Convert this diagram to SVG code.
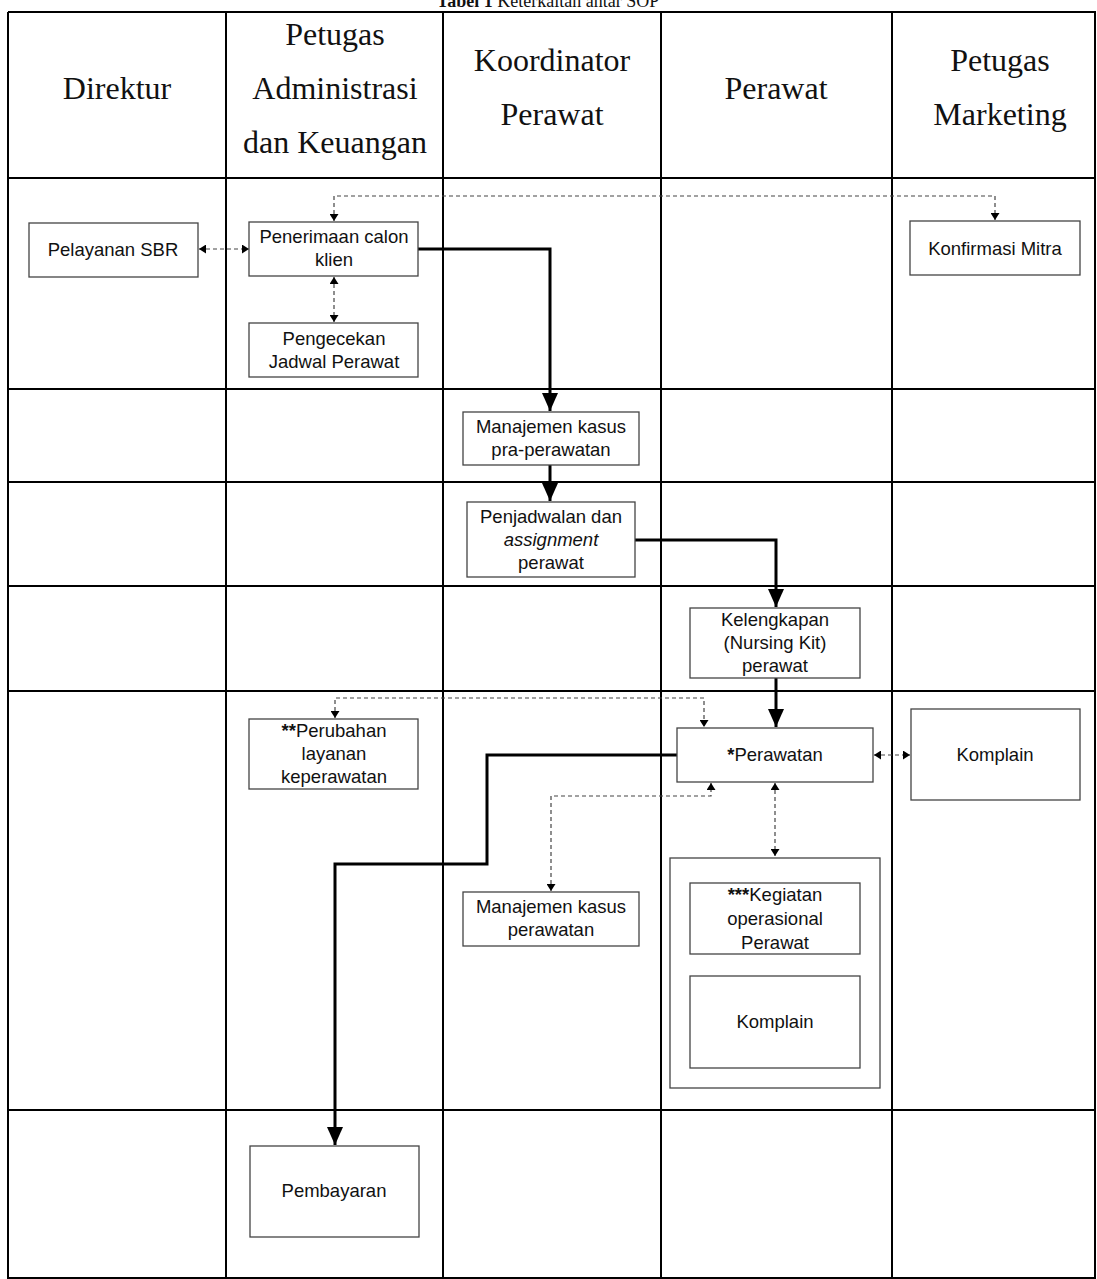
<svg xmlns="http://www.w3.org/2000/svg" width="1097" height="1279" viewBox="0 0 1097 1279">
<style>
.grid{stroke:#000;stroke-width:2;fill:none}
.hdr{font-family:"Liberation Serif","Times New Roman",serif;font-size:32px;fill:#111;text-anchor:middle}
.box{fill:#fff;stroke:#444;stroke-width:1.3}
.t{font-family:"Liberation Sans",Arial,sans-serif;font-size:18.5px;fill:#111;text-anchor:middle}
.st{font-weight:bold}
.thick{stroke:#000;stroke-width:3;fill:none}
.dash{stroke:#444;stroke-width:1.2;fill:none;stroke-dasharray:4 3}
</style>
<defs>
<marker id="big" markerUnits="userSpaceOnUse" viewBox="0 0 18 16" refX="18" refY="8" markerWidth="18" markerHeight="16" orient="auto-start-reverse"><path d="M0,0 L18,8 L0,16 z" fill="#000"/></marker>
<marker id="sm" markerUnits="userSpaceOnUse" viewBox="0 0 7 9" refX="7" refY="4.5" markerWidth="7" markerHeight="9" orient="auto-start-reverse"><path d="M0,0 L7,4.5 L0,9 z" fill="#000"/></marker>
</defs>
<rect width="1097" height="1279" fill="#fff"/>
<text x="548" y="7" font-family="Liberation Serif,'Times New Roman',serif" font-size="18" text-anchor="middle" fill="#111"><tspan font-weight="bold">Tabel 1</tspan> Keterkaitan antar SOP</text>
<g id="grid">
<path class="grid" d="M8,12 H1096 M8,178 H1096 M8,389 H1096 M8,482 H1096 M8,586 H1096 M8,691 H1096 M8,1110 H1096 M8,1278 H1096"/>
<path class="grid" d="M8,12 V1279 M226,12 V1279 M443,12 V1279 M661,12 V1279 M892,12 V1279 M1095,12 V1279"/>
</g>
<g id="headers">
<text class="hdr" x="117" y="99">Direktur</text>
<text class="hdr" x="335" y="45">Petugas</text>
<text class="hdr" x="335" y="99">Administrasi</text>
<text class="hdr" x="335" y="153">dan Keuangan</text>
<text class="hdr" x="552" y="71">Koordinator</text>
<text class="hdr" x="552" y="125">Perawat</text>
<text class="hdr" x="776" y="99">Perawat</text>
<text class="hdr" x="1000" y="71">Petugas</text>
<text class="hdr" x="1000" y="125">Marketing</text>
</g>
<g id="connectors">
<path class="dash" d="M334,221 V196 H995 V220" marker-start="url(#sm)" marker-end="url(#sm)"/>
<path class="dash" d="M199,249 H249" marker-start="url(#sm)" marker-end="url(#sm)"/>
<path class="dash" d="M334,277 V322" marker-start="url(#sm)" marker-end="url(#sm)"/>
<path class="thick" d="M418,249 H550 V411" marker-end="url(#big)"/>
<path class="thick" d="M550,465 V501" marker-end="url(#big)"/>
<path class="thick" d="M635,540 H776 V607" marker-end="url(#big)"/>
<path class="thick" d="M776,678 V727" marker-end="url(#big)"/>
<path class="dash" d="M335,718 V698 H704 V727" marker-start="url(#sm)" marker-end="url(#sm)"/>
<path class="dash" d="M874,755 H910" marker-start="url(#sm)" marker-end="url(#sm)"/>
<path class="dash" d="M775,783 V856" marker-start="url(#sm)" marker-end="url(#sm)"/>
<path class="dash" d="M551,891 V796 H711 V783" marker-start="url(#sm)" marker-end="url(#sm)"/>
<path class="thick" d="M677,755 H487 V864 H335 V1145" marker-end="url(#big)"/>
</g>
<g id="pelayanan-sbr"><rect class="box" x="29" y="223" width="169" height="54"/><text class="t" x="113" y="256">Pelayanan SBR</text></g>
<g id="penerimaan"><rect class="box" x="249" y="222" width="169" height="54"/><text class="t" x="334" y="243">Penerimaan calon</text><text class="t" x="334" y="266">klien</text></g>
<g id="pengecekan"><rect class="box" x="249" y="323" width="169" height="54"/><text class="t" x="334" y="345">Pengecekan</text><text class="t" x="334" y="368">Jadwal Perawat</text></g>
<g id="konfirmasi"><rect class="box" x="910" y="221" width="170" height="54"/><text class="t" x="995" y="255">Konfirmasi Mitra</text></g>
<g id="manajemen-pra"><rect class="box" x="463" y="412" width="176" height="53"/><text class="t" x="551" y="433">Manajemen kasus</text><text class="t" x="551" y="456">pra-perawatan</text></g>
<g id="penjadwalan"><rect class="box" x="467" y="502" width="168" height="75"/><text class="t" x="551" y="523">Penjadwalan dan</text><text class="t" x="551" y="546" font-style="italic">assignment</text><text class="t" x="551" y="569">perawat</text></g>
<g id="kelengkapan"><rect class="box" x="690" y="608" width="170" height="70"/><text class="t" x="775" y="626">Kelengkapan</text><text class="t" x="775" y="649">(Nursing Kit)</text><text class="t" x="775" y="672">perawat</text></g>
<g id="perawatan"><rect class="box" x="677" y="728" width="196" height="54"/><text class="t" x="775" y="761"><tspan class="st">*</tspan>Perawatan</text></g>
<g id="komplain-marketing"><rect class="box" x="911" y="709" width="169" height="91"/><text class="t" x="995" y="761">Komplain</text></g>
<g id="perubahan"><rect class="box" x="249" y="719" width="169" height="70"/><text class="t" x="334" y="737"><tspan class="st">**</tspan>Perubahan</text><text class="t" x="334" y="760">layanan</text><text class="t" x="334" y="783">keperawatan</text></g>
<g id="manajemen-perawatan"><rect class="box" x="463" y="892" width="176" height="54"/><text class="t" x="551" y="913">Manajemen kasus</text><text class="t" x="551" y="936">perawatan</text></g>
<g id="kelompok-perawat"><rect class="box" x="670" y="858" width="210" height="230"/></g>
<g id="kegiatan"><rect class="box" x="690" y="883" width="170" height="71"/><text class="t" x="775" y="901"><tspan class="st">***</tspan>Kegiatan</text><text class="t" x="775" y="925">operasional</text><text class="t" x="775" y="949">Perawat</text></g>
<g id="komplain-perawat"><rect class="box" x="690" y="976" width="170" height="92"/><text class="t" x="775" y="1028">Komplain</text></g>
<g id="pembayaran"><rect class="box" x="250" y="1146" width="169" height="91"/><text class="t" x="334" y="1197">Pembayaran</text></g>
</svg>
